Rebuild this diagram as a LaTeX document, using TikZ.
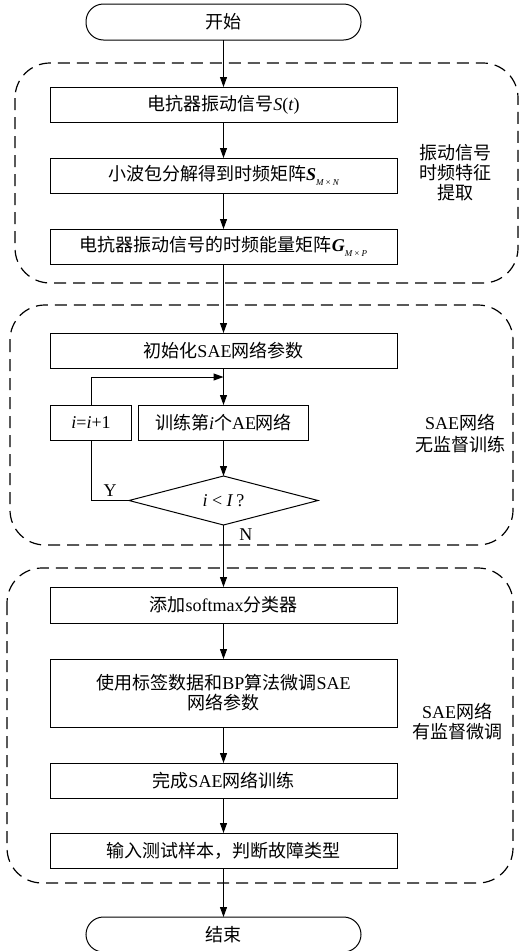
\documentclass[tikz,border=0pt]{standalone}
\usepackage{fontspec}
\setmainfont{Noto Sans CJK SC}
\newfontfamily\latinfont{Liberation Serif}
\usetikzlibrary{shapes.geometric, arrows.meta, positioning}

\newcommand{\en}[1]{{\latinfont #1}}
\newcommand{\msub}[1]{\raisebox{-0.45ex}{\fontsize{9}{9}\selectfont\latinfont\itshape #1}}

\begin{document}
\begin{tikzpicture}[
  x=1pt, y=1pt,
  node distance=36pt,
  every node/.style={font=\fontsize{18}{20}\selectfont},
  box/.style={rectangle, draw, line width=1pt, outer sep=0pt, minimum width=347pt, minimum height=35pt, inner sep=2pt, align=center},
  term/.style={rectangle, draw, line width=1pt, outer sep=0pt, rounded corners=17.5pt, minimum width=275pt, minimum height=36pt},
  decision/.style={diamond, draw, line width=1pt, outer sep=0pt, minimum width=189pt, minimum height=49pt, inner sep=0pt, aspect=3.8},
  arrow/.style={-{Triangle[length=10pt,width=7pt]}, line width=1pt},
  line/.style={line width=1pt},
  group/.style={draw, dash pattern=on 12pt off 7pt, line width=1.2pt, rounded corners=35pt},
  stage/.style={align=center}
]
  \useasboundingbox (0,0) rectangle (520,-951);

  \node[term] (start) at (223.5,-22) {开始};

  % feature extraction
  \node[box, below=47pt of start] (signal) {电抗器振动信号\en{\textit{S}(\textit{t})}};
  \node[box, below=of signal] (wpd) {小波包分解得到时频矩阵\en{\textbf{\textit{S}}}\msub{M\,×\,N}};
  \node[box, below=of wpd] (energy) {电抗器振动信号的时频能量矩阵\en{\textbf{\textit{G}}}\msub{M\,×\,P}};

  % unsupervised training
  \node[box, below=69pt of energy] (init) {初始化\en{SAE}网络参数};
  \node[box, minimum width=170pt, below=37pt of init] (train) {训练第\en{\textit{i}}个\en{AE}网络};
  \node[box, minimum width=81pt, left=7pt of train] (inc) {\en{\textit{i}=\textit{i}+1}};
  \node[decision, below=of train] (check) {\en{\textit{i} < \textit{I}\,?}};

  % supervised fine tuning
  \node[box, minimum height=36pt, below=62pt of check] (softmax) {添加\en{softmax}分类器};
  \node[box, minimum height=68pt, below=of softmax] (finetune) {使用标签数据和\en{BP}算法微调\en{SAE}\\网络参数};
  \node[box, below=of finetune] (done) {完成\en{SAE}网络训练};
  \node[box, below=35pt of done] (test) {输入测试样本，判断故障类型};

  \node[term, minimum height=35pt, below=49pt of test] (stop) {结束};

  % stage captions
  \node[stage] (stage1) at (455,-173) {振动信号\\时频特征\\提取};
  \node[stage, font=\fontsize{18}{22}\selectfont] (stage2) at (460,-434) {\en{SAE}网络\\无监督训练};
  \node[stage] (stage3) at (457,-722) {\en{SAE}网络\\有监督微调};

  % stage frames
  \draw[group] (15,-63) rectangle (518,-283);
  \draw[group] (10,-305) rectangle (513,-545);
  \draw[group] (7,-568) rectangle (513,-883);

  \draw[arrow] (start) -- (signal);
  \draw[arrow] (signal) -- (wpd);
  \draw[arrow] (wpd) -- (energy);
  \draw[arrow] (energy) -- (init);
  \draw[arrow] (init) -- (train);

  % loop back
  \coordinate[above=28pt of train.north] (join);
  \draw[arrow] (inc.north) |- (join);
  \draw[arrow] (train) -- (check);
  \draw[line] (check.west) -| (inc.south) node[pos=0.25, above] {\en{Y}};
  \draw[arrow] (check) -- (softmax) node[pos=0.15, right=12pt] {\en{N}};

  \draw[arrow] (softmax) -- (finetune);
  \draw[arrow] (finetune) -- (done);
  \draw[arrow] (done) -- (test);
  \draw[arrow] (test) -- (stop);
\end{tikzpicture}
\end{document}
